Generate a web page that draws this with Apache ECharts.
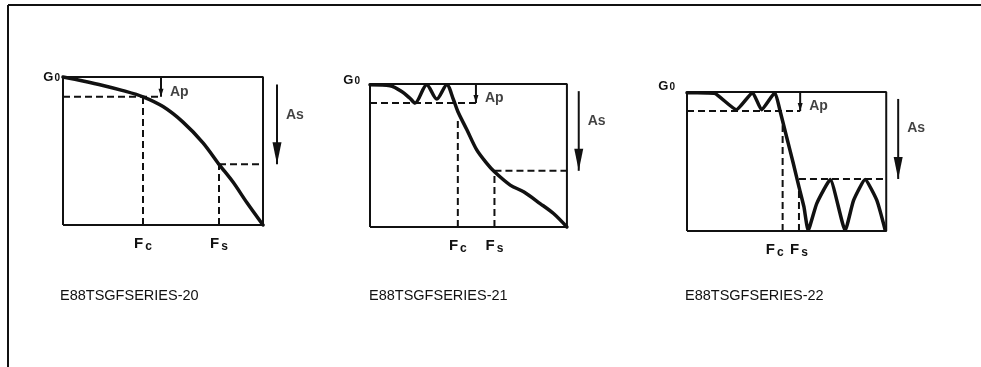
<!DOCTYPE html>
<html>
<head>
<meta charset="utf-8">
<script src="https://cdn.jsdelivr.net/npm/echarts@6/dist/echarts.min.js"></script>
<style>
html, body { margin: 0; padding: 0; background: #fff; }
#main { width: 981px; height: 367px; }
</style>
</head>
<body>
<div id="main"></div>
<script>
// 三种滤波器响应曲线 (x: 0-100 为方框宽度, y: 0-100 为方框高度, 100 = G0)
var butterCurve = [[0,100],[10,97.3],[20,94.3],[30,90.8],[40,86.6],[50,80],[60,69.5],[70,55.5],[78,41],[85,29],[92,15],[100,0]];
var chebyCurve = [[0,99.5],[10.2,98.8],[16.1,94.8],[20.3,90],[22.9,86.7],[28.8,99.5],[33.9,89.5],[39,99.5],[42.4,89],[44.6,80.8],[49.2,68],[54.2,53.9],[59.3,44.5],[63.2,38.6],[71.2,29.3],[78,24.6],[86.4,16.4],[93.2,9.4],[100,0]];
var ellipCurve = [[0,99.5],[10,99.3],[14,99],[24.8,87.3],[32.9,99.5],[37.4,87.3],[44.1,99.5],[46.6,87],[50,67.6],[53.4,48.4],[56.2,31.7],[58.7,17.3],[60.8,0.5],[65.1,19.7],[71.9,37],[79.4,0.5],[83.6,22],[89.4,37],[95.3,22],[99.5,0.5]];

var curves = [butterCurve, chebyCurve, ellipCurve];
var cutoffX = [40, 44.6, 48];       // Fc
var stopX = [78, 63.2, 56.2];       // Fs
var passLevel = [86.6, 86.7, 86.3]; // G0 - Ap
var stopLevel = [41, 39.3, 37.4];   // G0 - As
var cutoffDashTop = [86.6, 75, 76];
var stopDashTop = [41, 39.3, 30];
var apArrowX = [49, 53.8, 56.8];
var asArrowX = [107, 106, 106];
var asArrowTop = 95;
var figureIds = ['E88TSGFSERIES-20', 'E88TSGFSERIES-21', 'E88TSGFSERIES-22'];

// 版面
var grids = [
  {left: 63, top: 77, width: 260, height: 148},
  {left: 370, top: 84, width: 256, height: 143},
  {left: 687, top: 92, width: 259, height: 139}
];
var g0Margin = [3, 10, 12];
var g0Lift = [0, 8, 12];
var fcShift = [0, 0, 16];
var titleLeft = [55, 364, 680];

var chart = echarts.init(document.getElementById('main'));

var FONT = 'Liberation Sans';
var INK = '#111';

var labelRich = {
  g: {fontSize: 13, fontWeight: 'bold', color: INK, fontFamily: FONT},
  o: {fontSize: 10, fontWeight: 'bold', color: INK, fontFamily: FONT, padding: [3, 0, 0, 1]},
  f: {fontSize: 15, fontWeight: 'bold', color: INK, fontFamily: FONT},
  c: {fontSize: 12, fontWeight: 'bold', color: INK, fontFamily: FONT, padding: [7, 0, 0, 2]},
  cl: {fontSize: 12, fontWeight: 'bold', color: INK, fontFamily: FONT, padding: [7, 16, 0, 2]},
  s: {fontSize: 12, fontWeight: 'bold', color: INK, fontFamily: FONT, padding: [7, 0, 0, 2]}
};

var xAxes = [], yAxes = [], series = [], titles = [];

function dashed(i, data) {
  return {
    type: 'line', xAxisIndex: i, yAxisIndex: i, data: data,
    symbol: 'none', clip: false, silent: true,
    lineStyle: {color: INK, width: 2, type: [7, 4]}
  };
}

function arrow(i, x, y0, y1, w, h) {
  return {
    type: 'line', xAxisIndex: i, yAxisIndex: i, clip: false, silent: true,
    showSymbol: true, symbol: 'none',
    data: [[x, y0], {value: [x, y1], symbol: 'triangle', symbolSize: [w, h], symbolRotate: 180, symbolOffset: [0, -h / 2],
      itemStyle: {color: INK}}],
    lineStyle: {color: INK, width: 2}
  };
}

for (var i = 0; i < 3; i++) {
  (function (i) {
    xAxes.push({
      gridIndex: i, type: 'value', min: 0, max: 130,
      axisLine: {show: false}, axisTick: {show: false}, splitLine: {show: false},
      axisLabel: {
        customValues: [cutoffX[i], stopX[i]],
        margin: 9,
        formatter: function (v) {
          if (Math.abs(v - cutoffX[i]) < 0.01) return fcShift[i] ? '{f|F}{cl|c}' : '{f|F}{c|c}';
          return '{f|F}{s|s}';
        },
        rich: labelRich
      }
    });
    yAxes.push({
      gridIndex: i, type: 'value', min: 0, max: 100,
      axisLine: {show: false}, axisTick: {show: false}, splitLine: {show: false},
      axisLabel: {
        customValues: [100],
        margin: g0Margin[i],
        verticalAlign: 'middle',
        padding: [0, 0, g0Lift[i], 0],
        formatter: function () { return '{g|G}{o|0}'; },
        rich: labelRich
      }
    });

    // 方框
    series.push({
      type: 'line', xAxisIndex: i, yAxisIndex: i, symbol: 'none', clip: false, silent: true,
      data: [[0, 0], [100, 0], [100, 100], [0, 100], [0, 0]],
      lineStyle: {color: INK, width: 2}
    });
    // 虚线
    series.push(dashed(i, [[0, passLevel[i]], [apArrowX[i], passLevel[i]]]));
    series.push(dashed(i, [[stopX[i], stopLevel[i]], [100, stopLevel[i]]]));
    series.push(dashed(i, [[cutoffX[i], 0], [cutoffX[i], cutoffDashTop[i]]]));
    series.push(dashed(i, [[stopX[i], 0], [stopX[i], stopDashTop[i]]]));
    // 响应曲线
    series.push({
      type: 'line', xAxisIndex: i, yAxisIndex: i, symbol: 'none', clip: false, silent: true,
      smooth: i === 2 ? 0.15 : 0.3,
      data: curves[i],
      lineStyle: {color: INK, width: 3.5, join: 'round', cap: 'round'}
    });
    // 箭头 Ap / As
    series.push(arrow(i, apArrowX[i], 100, passLevel[i], 5, 8));
    series.push(arrow(i, asArrowX[i], asArrowTop, stopLevel[i], 9, 22));
    // 文字
    series.push({
      type: 'scatter', xAxisIndex: i, yAxisIndex: i, symbolSize: 0, silent: true, clip: false,
      data: [
        [apArrowX[i], passLevel[i] + (100 - passLevel[i]) * 0.25, 'Ap'],
        [asArrowX[i], 74, 'As']
      ],
      label: {
        show: true, position: 'right', distance: 9,
        formatter: function (p) { return p.value[2]; },
        fontSize: 14, fontFamily: FONT, fontWeight: 'bold', color: INK
      }
    });

    titles.push({
      text: figureIds[i], left: titleLeft[i], top: 283,
      textStyle: {fontSize: 14.5, fontWeight: 'normal', fontFamily: FONT, color: INK}
    });
  })(i);
}

chart.setOption({
  animation: false,
  backgroundColor: '#fff',
  title: titles,
  grid: grids,
  xAxis: xAxes,
  yAxis: yAxes,
  series: series,
  graphic: [
    {type: 'line', shape: {x1: 8, y1: 5, x2: 981, y2: 5}, style: {stroke: INK, lineWidth: 2}},
    {type: 'line', shape: {x1: 8, y1: 5, x2: 8, y2: 367}, style: {stroke: INK, lineWidth: 2}}
  ]
});
</script>
</body>
</html>
